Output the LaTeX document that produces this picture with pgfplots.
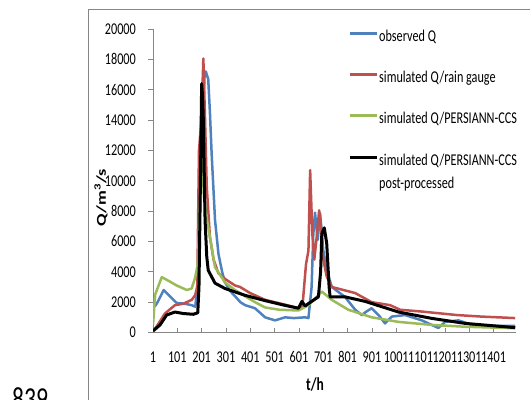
\documentclass[border=0pt]{standalone}
\usepackage{pgfplots}
\pgfplotsset{compat=1.18}
\usepackage{fontspec}
\setmainfont{Carlito}
\definecolor{obsblue}{HTML}{4F81BD}
\definecolor{simred}{HTML}{C0504D}
\definecolor{simgreen}{HTML}{9BBB59}
\definecolor{axgray}{HTML}{868686}
\newcommand{\vs}[1]{\scalebox{1}[1.35]{#1}}
\begin{document}
\begin{tikzpicture}
\useasboundingbox (0pt,0pt) rectangle (530pt,399pt);
\draw[axgray, line width=1pt] (88.5pt,-5pt) -- (88.5pt,389pt) -- (535pt,389pt);
\node[anchor=north west, inner sep=0pt] at (12pt,12pt) {\fontsize{23.7}{28}\selectfont\vs{839}};
\begin{axis}[
  at={(153pt,66.5pt)}, anchor=south west,
  scale only axis, width=362.7pt, height=303.5pt,
  xmin=1, xmax=1492, ymin=0, ymax=20000,
  axis x line=bottom, axis y line=left,
  axis line style={-, axgray, line width=0.8pt},
  xtick={1,101,...,1401},
  ytick={0,2000,...,20000},
  scaled y ticks=false, scaled x ticks=false,
  xtick align=inside, ytick align=outside,
  major tick length=5pt,
  tick style={axgray, line width=0.8pt},
  /pgf/number format/assume math mode=true,
  /pgf/number format/set thousands separator={},
  /pgf/number format/fixed,
  /pgf/number format/precision=0,
  xticklabel={\vs{\pgfmathprintnumber{\tick}}},
  yticklabel={\vs{\pgfmathprintnumber{\tick}}},
  tick label style={font=\fontsize{12.2}{14}\selectfont, inner sep=0pt},
  yticklabel style={anchor=east, xshift=-12pt},
  xticklabel style={anchor=north, yshift=-19pt},
  xlabel={\vs{\bfseries t/h}},
  xlabel style={at={(axis description cs:0.4467,0)}, anchor=center, yshift=-52.5pt, font=\fontsize{13.5}{15}\selectfont},
  ylabel={\scalebox{1.35}[1]{\bfseries Q/m\textsuperscript{3}/s}},
  ylabel style={at={(axis description cs:-0.1434,0.443)}, anchor=center, rotate=0, font=\fontsize{13.5}{15}\selectfont},
  legend style={at={(axis description cs:0.5376,1.0)}, anchor=north west, draw=none, fill=none, inner sep=0pt,
    row sep=25.3pt, column sep=1pt, font=\fontsize{12.2}{17}\selectfont,
    nodes={inner sep=0pt, text height=12pt, text depth=4pt}},
  legend cell align=left,
  legend image code/.code={\draw[#1, line width=3pt] (0pt,4pt) -- (27pt,4pt);},
]
\addplot[obsblue, line width=2.5pt, line join=round] coordinates {
(1,2500)(10,1750)(20,2000)(45,2800)(70,2400)(98,1950)(130,1900)(160,1800)(175,1700)(185,3500)(195,9000)(205,14000)(213,16900)(218,17200)(228,16700)(235,14500)(242,11800)(256,7400)(270,5200)(285,4000)(297,3300)(320,2700)(338,2400)(360,2000)(380,1800)(420,1600)(441,1300)(462,1000)(482,900)(503,800)(544,1000)(580,950)(626,1000)(640,950)(653,3000)(660,6500)(667,7900)(678,6100)(688,7850)(701,5400)(715,4100)(736,3000)(790,2350)(832,1500)(859,1150)(880,1400)(900,1600)(928,1150)(955,600)(983,1050)(1037,1150)(1106,800)(1133,600)(1174,300)(1202,700)(1257,800)(1312,500)(1350,450)(1421,430)(1490,430)
};
\addlegendentry{\vs{observed Q}}
\addplot[simred, line width=2.5pt, line join=round] coordinates {
(1,100)(16,400)(50,1250)(91,1800)(126,1900)(160,2150)(174,2450)(183,3000)(190,12000)(200,14000)(208,18050)(215,14000)(222,9600)(235,6300)(250,4800)(270,3900)(300,3500)(338,3100)(359,3000)(400,2600)(462,2150)(540,1850)(599,1600)(615,1650)(630,4500)(640,5400)(647,10700)(656,6500)(664,4800)(674,6300)(684,8050)(692,6900)(701,4800)(715,3700)(736,3000)(832,2600)(900,2000)(976,1800)(1017,1500)(1113,1370)(1250,1150)(1350,1050)(1490,950)
};
\addlegendentry{\vs{simulated Q/rain gauge}}
\addplot[simgreen, line width=2.5pt, line join=round] coordinates {
(1,500)(10,2500)(37,3650)(71,3350)(98,3100)(140,2800)(160,2900)(174,3600)(185,4500)(195,9000)(202,12300)(210,9000)(222,7500)(235,6300)(256,4300)(297,3300)(338,2800)(379,2400)(420,2000)(462,1650)(520,1500)(599,1450)(640,1800)(695,2700)(736,2150)(804,1500)(900,1000)(1010,700)(1147,500)(1284,380)(1490,280)
};
\addlegendentry{\vs{simulated Q/PERSIANN-CCS}}
\addplot[black, line width=3pt, line join=round] coordinates {
(1,100)(30,500)(57,1150)(91,1350)(126,1250)(167,1200)(185,1300)(190,3000)(196,10000)(201,16400)(205,15500)(208,14000)(215,7400)(222,5000)(228,4100)(256,3250)(297,2900)(379,2450)(462,2100)(540,1800)(599,1600)(613,2050)(626,1750)(653,2050)(681,2350)(690,4000)(695,6500)(705,6900)(715,5900)(725,3000)(729,2350)(790,2350)(873,2050)(1010,1350)(1147,930)(1284,600)(1490,320)
};
\addlegendentry{\vs{\begin{tabular}[t]{@{}l@{}}simulated Q/PERSIANN-CCS\\post-processed\end{tabular}}}
\end{axis}
\end{tikzpicture}
\end{document}
